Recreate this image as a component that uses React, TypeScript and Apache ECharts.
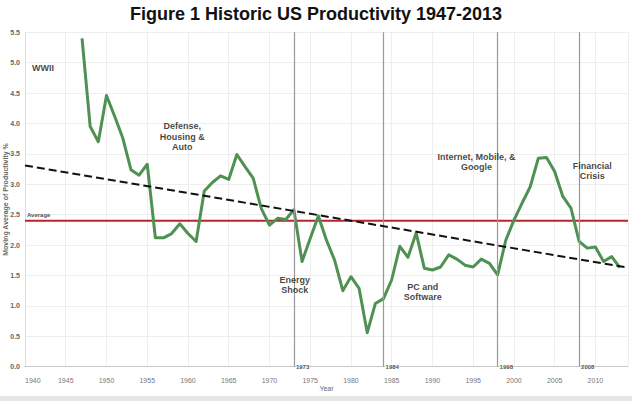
import React, { useEffect, useRef } from "react";
import * as echarts from "echarts";

const years = [
  1947, 1948, 1949, 1950, 1951, 1952, 1953, 1954, 1955, 1956, 1957, 1958, 1959, 1960,
  1961, 1962, 1963, 1964, 1965, 1966, 1967, 1968, 1969, 1970, 1971, 1972, 1973, 1974,
  1975, 1976, 1977, 1978, 1979, 1980, 1981, 1982, 1983, 1984, 1985, 1986, 1987, 1988,
  1989, 1990, 1991, 1992, 1993, 1994, 1995, 1996, 1997, 1998, 1999, 2000, 2001, 2002,
  2003, 2004, 2005, 2006, 2007, 2008, 2009, 2010, 2011, 2012, 2013,
];
const productivity = [
  5.4, 3.95, 3.7, 4.46, 4.12, 3.76, 3.24, 3.15, 3.33, 2.12, 2.12, 2.19, 2.35, 2.19,
  2.06, 2.89, 3.03, 3.14, 3.08, 3.49, 3.29, 3.1, 2.6, 2.33, 2.44, 2.42, 2.58, 1.73,
  2.11, 2.48, 2.08, 1.75, 1.25, 1.48, 1.29, 0.56, 1.04, 1.12, 1.43, 1.98, 1.8, 2.2,
  1.62, 1.59, 1.64, 1.84, 1.77, 1.67, 1.64, 1.77, 1.7, 1.51, 2.08, 2.41, 2.69, 2.96,
  3.43, 3.44, 3.21, 2.8, 2.61, 2.06, 1.95, 1.97, 1.73, 1.81, 1.63,
];
const trendYears = [1940, 2014];
const trendValues = [3.31, 1.63];
const averageValue = 2.4;
const eventYears = [1973, 1984, 1998, 2008];
const annotationTexts = [
  "WWII",
  "Defense,\nHousing &\nAuto",
  "Energy\nShock",
  "PC and\nSoftware",
  "Internet, Mobile, &\nGoogle",
  "Financial\nCrisis",
];
const annotationYears = [1942.2, 1959.3, 1973.1, 1988.8, 1995.4, 2009.6];
const annotationValues = [4.91, 3.78, 1.34, 1.23, 3.37, 3.22];

const FONT = "'Liberation Sans', Arial, Helvetica, sans-serif";

export default function App() {
  const ref = useRef<HTMLDivElement>(null);
  useEffect(() => {
    if (!ref.current) return;
    const chart = echarts.init(ref.current, null, { renderer: "svg" });
    const option: any = {
      animation: false,
      backgroundColor: "#ffffff",
      textStyle: { fontFamily: FONT },
      title: {
        text: "Figure 1 Historic US Productivity 1947-2013",
        left: "center",
        top: 0,
        textStyle: { fontFamily: FONT, fontSize: 18, fontWeight: "bold", color: "#111" },
      },
      grid: {
        left: 25,
        right: 4,
        top: 32.3,
        bottom: 34.3,
        containLabel: false,
        outerBoundsMode: "none",
      },
      xAxis: {
        type: "value",
        min: 1940,
        max: 2014,
        interval: 5,
        offset: 5,
        name: "Year",
        nameLocation: "middle",
        nameGap: 13,
        nameMoveOverlap: false,
        nameTextStyle: { fontSize: 7, color: "#666", fontFamily: FONT, padding: [0, 0, 0, 0] },
        axisLine: { show: true, lineStyle: { color: "#c8c8c8", width: 1 } },
        axisTick: { show: false },
        axisLabel: {
          fontSize: 7,
          color: "#777",
          margin: 5,
          alignMinLabel: "left",
          formatter: (v: number) => (v % 5 === 0 ? String(v) : ""),
        },
        splitLine: { show: true, lineStyle: { color: "#eeeeee", width: 1 } },
      },
      yAxis: {
        type: "value",
        min: 0,
        max: 5.5,
        interval: 0.5,
        name: "Moving Average of Productivity %",
        nameLocation: "middle",
        nameGap: 16,
        nameMoveOverlap: false,
        nameTextStyle: { fontSize: 7, color: "#666", fontFamily: FONT, fontWeight: "bold" },
        axisLine: { show: true, lineStyle: { color: "#dddddd", width: 1 } },
        axisTick: { show: false },
        axisLabel: {
          fontSize: 7,
          color: "#666",
          fontWeight: "bold",
          margin: 5,
          formatter: (v: number) => v.toFixed(1),
        },
        splitLine: { show: true, lineStyle: { color: "#eeeeee", width: 1 } },
      },
      graphic: [
        {
          type: "rect",
          shape: { x: 0, y: 396, width: 632, height: 5 },
          style: { fill: "#e6e6e6" },
          silent: true,
        },
      ],
      series: [
        {
          type: "line",
          name: "events",
          data: [],
          markLine: {
            silent: true,
            symbol: "none",
            label: { show: false },
            lineStyle: { color: "#999999", width: 1.2, type: "solid" },
            data: eventYears.map((y) => ({ xAxis: y })),
          },
        },
        {
          type: "scatter",
          name: "eventLabels",
          symbolSize: 0,
          data: eventYears.map((y) => [y, 0]),
          label: {
            show: true,
            position: "right",
            distance: 2,
            formatter: (p: any) => String(p.value[0]),
            fontSize: 6,
            fontWeight: "bold",
            color: "#222",
            backgroundColor: "#ffffff",
          },
          z: 5,
        },
        {
          type: "line",
          name: "average",
          data: trendYears.map((y) => [y, averageValue]),
          symbol: "none",
          lineStyle: { color: "#b8242a", width: 2 },
          z: 3,
        },
        {
          type: "scatter",
          name: "averageLabel",
          symbolSize: 0,
          data: [[trendYears[0], averageValue]],
          label: {
            show: true,
            position: "right",
            distance: 2,
            offset: [0, -6],
            formatter: "Average",
            fontSize: 6,
            fontWeight: "bold",
            color: "#222",
          },
        },
        {
          type: "line",
          name: "productivity",
          data: years.map((y, i) => [y, productivity[i]]),
          symbol: "none",
          lineStyle: { color: "#4f9152", width: 3, join: "round" },
          z: 4,
        },
        {
          type: "line",
          name: "trend",
          data: trendYears.map((y, i) => [y, trendValues[i]]),
          symbol: "none",
          lineStyle: { color: "#111111", width: 2, type: [8, 4] },
          z: 5,
        },
        {
          type: "scatter",
          name: "annotations",
          symbolSize: 0,
          data: annotationYears.map((y, i) => [y, annotationValues[i]]),
          label: {
            show: true,
            position: "inside",
            formatter: (p: any) => annotationTexts[p.dataIndex],
            fontSize: 9,
            lineHeight: 10.5,
            fontWeight: "bold",
            color: "#111",
            align: "center",
            verticalAlign: "middle",
          },
          z: 6,
        },
      ],
    };
    chart.setOption(option);
    return () => chart.dispose();
  }, []);
  return (
    <div
      ref={ref}
      style={{ position: "fixed", left: 0, top: 0, width: 632, height: 401, background: "#fff" }}
    />
  );
}
